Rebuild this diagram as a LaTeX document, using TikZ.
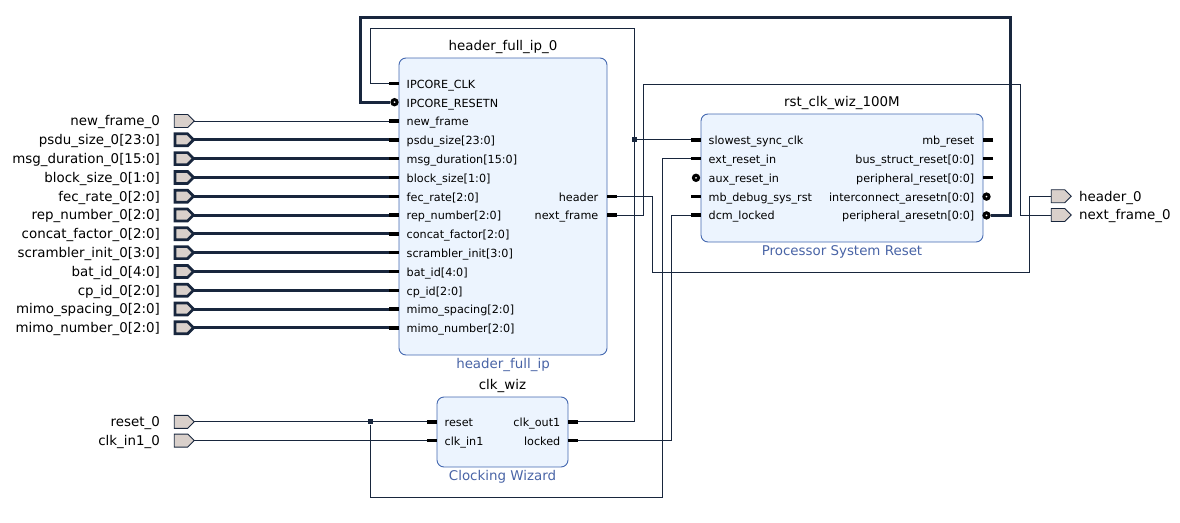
\documentclass[tikz,border=0pt]{standalone}
\usepackage{fontspec}
\setmainfont{DejaVu Sans}
\usetikzlibrary{positioning, shapes.symbols}

\definecolor{wirecol}{HTML}{18263D}
\definecolor{ipfill}{HTML}{ECF4FE}
\definecolor{ipedge}{HTML}{4468B0}
\definecolor{ipblue}{HTML}{4964A6}
\definecolor{portfill}{HTML}{D9D0CB}

\begin{document}
\begin{tikzpicture}[
        x=1pt, y=-1pt,
        ipblock/.style={draw=ipedge, fill=ipfill, line width=0.9pt, rounded corners=7pt, inner sep=0pt},
        iptitle/.style={anchor=base, inner sep=0pt, font=\fontsize{13.4}{16}\selectfont},
        ipname/.style={iptitle, text=ipblue},
        pinlbl/.style={inner sep=0pt, font=\fontsize{11.2}{13}\selectfont},
        portlbl/.style={anchor=base east, inner sep=0pt, font=\fontsize{13.4}{16}\selectfont},
        outlbl/.style={portlbl, anchor=base west},
        port/.style={signal, signal to=east, signal pointer angle=90, draw=wirecol, fill=portfill,
            line width=0.9pt, minimum width=20pt, minimum height=13pt, inner sep=0pt, outer sep=0pt},
        busport/.style={port, line width=2.7pt, minimum width=18.5pt, minimum height=12pt},
        net/.style={draw=wirecol, line width=1pt},
        bus/.style={draw=wirecol, line width=3pt},
        stub/.style={draw=black, line width=3.4pt},
        invpin/.style={circle, draw=black, fill=white, line width=3pt, minimum size=5.2pt, inner sep=0pt},
        junc/.style={rectangle, fill=wirecol, minimum size=5pt, inner sep=0pt},
    ]
    \useasboundingbox (0,0) rectangle (1180,522);

    % header_full_ip_0
    \node[ipblock, minimum width=208pt, minimum height=297pt] (hdr) at (503,206.5) {};
    \node[iptitle] (hdrtitle) at ([yshift=7pt]hdr.north) {header\_full\_ip\_0};
    \node[ipname] (hdrname) at ([yshift=-13.5pt]hdr.south) {header\_full\_ip};
    \foreach \pin [count=\k] in {IPCORE\_CLK, IPCORE\_RESETN, new\_frame, {psdu\_size[23:0]},
            {msg\_duration[15:0]}, {block\_size[1:0]}, {fec\_rate[2:0]}, {rep\_number[2:0]},
            {concat\_factor[2:0]}, {scrambler\_init[3:0]}, {bat\_id[4:0]}, {cp\_id[2:0]},
            {mimo\_spacing[2:0]}, {mimo\_number[2:0]}} {
        \pgfmathsetmacro\ry{83.4+18.8*(\k-1)}
        \node[pinlbl, anchor=base west] (hdrl\k) at (406.5,\ry+4.8) {\pin};
        \coordinate (hp\k) at (389,\ry);
        \ifnum\k=2 \else \draw[stub] (hp\k) -- ++(10,0); \fi
    }
    \node[invpin] (hdrrst) at (394.5,102.2) {};
    \node[pinlbl, anchor=base east] (hdrr7) at (598.5,201) {header};
    \node[pinlbl, anchor=base east] (hdrr8) at (598.5,219.8) {next\_frame};
    \coordinate (hdrhead) at (617,196.2);
    \coordinate (hdrnext) at (617,215);
    \draw[stub] (hdrhead) -- ++(-10,0);
    \draw[stub] (hdrnext) -- ++(-10,0);

    % rst_clk_wiz_100M
    \node[ipblock, minimum width=282pt, minimum height=128pt] (rst) at (842,178) {};
    \node[iptitle] (rsttitle) at ([yshift=7pt]rst.north) {rst\_clk\_wiz\_100M};
    \node[ipname] (rstname) at ([yshift=-13.5pt]rst.south) {Processor System Reset};
    \foreach \pin [count=\k from 4] in {slowest\_sync\_clk, ext\_reset\_in, aux\_reset\_in,
            mb\_debug\_sys\_rst, dcm\_locked} {
        \pgfmathsetmacro\ry{83.4+18.8*(\k-1)}
        \node[pinlbl, anchor=base west] (rstl\k) at (708.5,\ry+4.8) {\pin};
        \coordinate (rl\k) at (691,\ry);
        \ifnum\k=6 \else \draw[stub] (rl\k) -- ++(10,0); \fi
    }
    \node[invpin] (rstaux) at (696,177.8) {};
    \foreach \pin [count=\k from 4] in {mb\_reset, {bus\_struct\_reset[0:0]}, {peripheral\_reset[0:0]},
            {interconnect\_aresetn[0:0]}, {peripheral\_aresetn[0:0]}} {
        \pgfmathsetmacro\ry{83.4+18.8*(\k-1)}
        \node[pinlbl, anchor=base east] (rstr\k) at (974.5,\ry+4.8) {\pin};
        \coordinate (rr\k) at (993,\ry);
        \ifnum\k<7 \draw[stub] (rr\k) -- ++(-10,0); \fi
    }
    \node[invpin] (rrb7) at (986.5,196.6) {};
    \node[invpin] (rrb8) at (986.5,215.4) {};

    % clk_wiz
    \node[ipblock, minimum width=131pt, minimum height=70pt] (cw) at (502.5,432) {};
    \node[iptitle] (cwtitle) at ([yshift=7pt]cw.north) {clk\_wiz};
    \node[ipname] (cwname) at ([yshift=-13.5pt]cw.south) {Clocking Wizard};
    \node[pinlbl, anchor=base west] (cwl19lbl) at (444.5,426.6) {reset};
    \node[pinlbl, anchor=base west] (cwl20lbl) at (444.5,445.4) {clk\_in1};
    \node[pinlbl, anchor=base east] (cwr19lbl) at (560.5,426.6) {clk\_out1};
    \node[pinlbl, anchor=base east] (cwr20lbl) at (560.5,445.4) {locked};
    \coordinate (cwl19) at (427,421.8);
    \coordinate (cwl20) at (427,440.6);
    \coordinate (cwr19) at (578,421.8);
    \coordinate (cwr20) at (578,440.6);
    \draw[stub] (cwl19) -- ++(10,0);
    \draw[stub] (cwl20) -- ++(10,0);
    \draw[stub] (cwr19) -- ++(-10,0);
    \draw[stub] (cwr20) -- ++(-10,0);

    % external ports
    \node[port] (nf0) at (181,121) {};
    \node[portlbl] (nf0lbl) at (160,125.9) {new\_frame\_0};
    \draw[net] (nf0.east) -- (hp3);
    \foreach \lbl [count=\k from 4] in {{psdu\_size\_0[23:0]}, {msg\_duration\_0[15:0]},
            {block\_size\_0[1:0]}, {fec\_rate\_0[2:0]}, {rep\_number\_0[2:0]}, {concat\_factor\_0[2:0]},
            {scrambler\_init\_0[3:0]}, {bat\_id\_0[4:0]}, {cp\_id\_0[2:0]}, {mimo\_spacing\_0[2:0]},
            {mimo\_number\_0[2:0]}} {
        \pgfmathsetmacro\ry{83.4+18.8*(\k-1)}
        \draw[bus] (181,\ry) -- (hp\k);
        \node[busport] (in\k) at (181.3,\ry) {};
        \node[portlbl] (inlbl\k) at (160,\ry+4.9) {\lbl};
    }
    \node[port] (rst0) at (181,421.8) {};
    \node[portlbl] (rst0lbl) at (160,426.7) {reset\_0};
    \node[port] (clk0) at (181,440.6) {};
    \node[portlbl] (clk0lbl) at (160,445.5) {clk\_in1\_0};
    \node[port] (hout) at (1058,196.2) {};
    \node[outlbl] (houtlbl) at (1079,201.1) {header\_0};
    \node[port] (nout) at (1058,215) {};
    \node[outlbl] (noutlbl) at (1079,219.9) {next\_frame\_0};

    % nets
    \draw[net] (cwr19) -| (634,28) -| (370,83.4) -- (hp1);
    \node[junc] (jclk) at (634,139.8) {};
    \draw[net] (jclk) -- (rl4);
    \draw[net] (rst0.east) -- (cwl19);
    \draw[net] (clk0.east) -- (cwl20);
    \node[junc] (jrst) at (370,421.8) {};
    \draw[net] (jrst) |- (662,497) |- (rl5);
    \draw[net] (cwr20) -- (671,440.6) |- (rl8);
    \draw[bus] (rrb8.east) -| (1010,17) -| (360,102.2) -- (hdrrst.west);
    \draw[net] (hdrhead) -| (652,272) -| (1029,196.2) -- (hout.west);
    \draw[net] (hdrnext) -| (643,84) -| (1020,215) -- (nout.west);
\end{tikzpicture}
\end{document}
